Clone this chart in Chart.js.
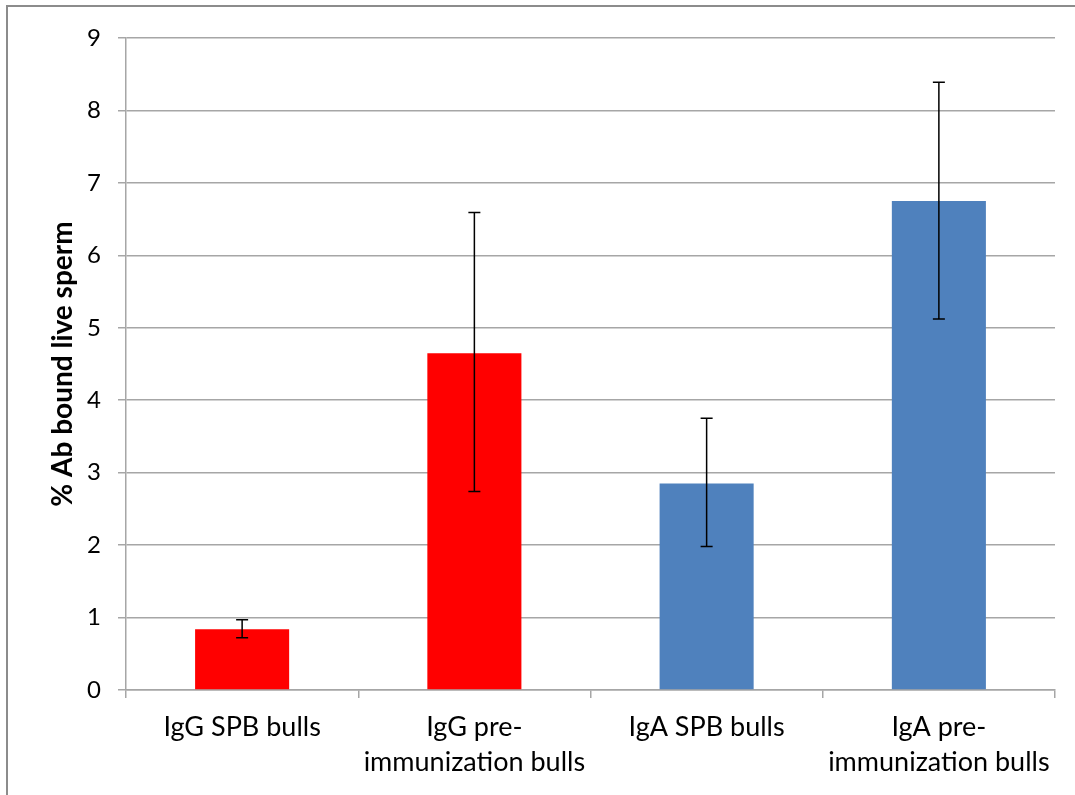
<!DOCTYPE html>
<html lang="en">
<head>
    <meta charset="utf-8" />
    <title>% Ab bound live sperm</title>
    <script src="https://cdn.jsdelivr.net/npm/chart.js@4.4.0/dist/chart.umd.min.js"></script>
    <style>
        html, body {
            margin: 0;
            padding: 0;
            background: #fff;
            overflow: hidden;
        }

        /* frame of the pasted chart, only top and left edges show */
        .frame {
            position: absolute;
            left: 6px;
            top: 5px;
            width: 1200px;
            height: 900px;
            border-left: 2px solid #8c8c8c;
            border-top: 2px solid #8c8c8c;
        }

        .wrap {
            position: absolute;
            left: 0;
            top: 0;
            width: 1075px;
            height: 795px;
        }
    </style>
</head>
<body>
    <div class="frame"></div>
    <div class="wrap">
        <canvas id="chart" width="1075" height="795"></canvas>
    </div>

    <script>
        // chart data
        const categories = [
            'IgG SPB bulls',
            ['IgG pre-', 'immunization bulls'],
            'IgA SPB bulls',
            ['IgA pre-', 'immunization bulls']
        ];
        const values = [0.84, 4.65, 2.85, 6.75];
        const errLow = [0.72, 2.74, 1.98, 5.12];
        const errHigh = [0.97, 6.59, 3.75, 8.39];
        const barColors = ['#ff0000', '#ff0000', '#4f81bd', '#4f81bd'];
        const yTicks = [0, 1, 2, 3, 4, 5, 6, 7, 8, 9];

        const gridGray = '#a6a6a6';
        const font = 'Lato, "Open Sans", sans-serif';

        // draws the error bars through the y scale
        const errorBars = {
            id: 'errorBars',
            afterDatasetsDraw(chart) {
                const ctx = chart.ctx;
                const meta = chart.getDatasetMeta(0);
                const y = chart.scales.y;
                ctx.save();
                ctx.strokeStyle = '#000';
                ctx.lineWidth = 1.5;
                meta.data.forEach(function (bar, i) {
                    const x = bar.x;
                    const top = y.getPixelForValue(errHigh[i]);
                    const bottom = y.getPixelForValue(errLow[i]);
                    ctx.beginPath();
                    ctx.moveTo(x, top);
                    ctx.lineTo(x, bottom);
                    ctx.moveTo(x - 6, top);
                    ctx.lineTo(x + 6, top);
                    ctx.moveTo(x - 6, bottom);
                    ctx.lineTo(x + 6, bottom);
                    ctx.stroke();
                });
                ctx.restore();
            }
        };

        new Chart(document.getElementById('chart'), {
            type: 'bar',
            data: {
                labels: categories,
                datasets: [{
                    data: values,
                    backgroundColor: barColors,
                    borderWidth: 0,
                    categoryPercentage: 1,
                    barPercentage: 0.405
                }]
            },
            options: {
                responsive: false,
                animation: false,
                layout: {
                    padding: { left: 46, top: 38, right: 20, bottom: 0 }
                },
                plugins: {
                    legend: { display: false },
                    tooltip: { enabled: false }
                },
                scales: {
                    x: {
                        afterFit(scale) { scale.height = 105; },
                        grid: {
                            display: true,
                            offset: true,
                            drawOnChartArea: false,
                            color: gridGray,
                            lineWidth: 1.5,
                            tickLength: 8
                        },
                        border: { color: gridGray, width: 1.5 },
                        ticks: {
                            color: '#000',
                            font: { family: font, size: 27, lineHeight: 1.3 },
                            padding: 12,
                            maxRotation: 0,
                            autoSkip: false
                        }
                    },
                    y: {
                        min: 0,
                        max: 9,
                        afterFit(scale) { scale.width = 80; },
                        afterBuildTicks(scale) {
                            scale.ticks = yTicks.map(v => ({ value: v }));
                        },
                        grid: {
                            color: gridGray,
                            lineWidth: 1.5,
                            tickLength: 8
                        },
                        border: { color: gridGray, width: 1.5 },
                        ticks: {
                            color: '#000',
                            font: { family: font, size: 24 },
                            padding: 17
                        },
                        title: {
                            display: true,
                            text: '% Ab bound live sperm',
                            color: '#000',
                            font: { family: font, size: 28, weight: 'bold' },
                            padding: { top: 0, bottom: 0 }
                        }
                    }
                }
            },
            plugins: [errorBars]
        });
    </script>
</body>
</html>
